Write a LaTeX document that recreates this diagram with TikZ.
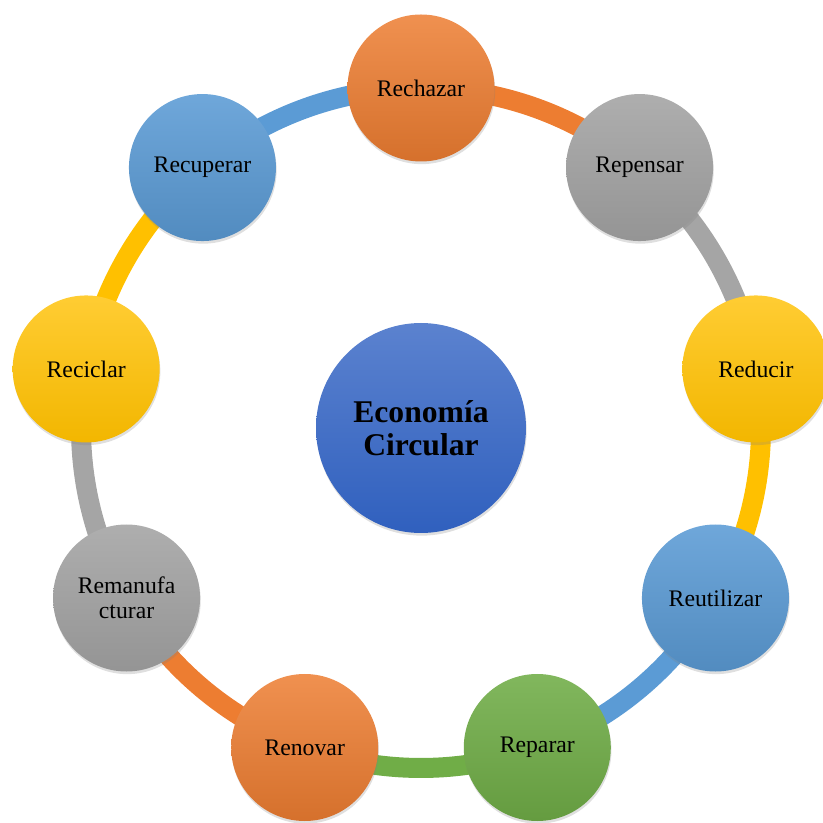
\documentclass[tikz,border=0pt]{standalone}
\usepackage{fontspec}
\setmainfont{Liberation Serif}
\usepackage{tikz}
\usetikzlibrary{shadows,backgrounds}

\definecolor{naranja}{HTML}{ED7D31}
\definecolor{gris}{HTML}{A5A5A5}
\definecolor{amarillo}{HTML}{FFC000}
\definecolor{azul}{HTML}{5B9BD5}
\definecolor{verde}{HTML}{70AD47}
\definecolor{azulclaro}{RGB}{91,130,207}
\definecolor{azuloscuro}{RGB}{48,96,190}

\tikzset{
    sombra/.style={drop shadow={opacity=0.25, shadow xshift=0.4pt, shadow yshift=-1.5pt}},
    etapa/.style={circle, minimum size=2.94cm, inner sep=0pt, align=center,
        font=\fontsize{13.5}{14.2}\selectfont, sombra},
    bolanaranja/.style={etapa, top color=naranja!85!white, bottom color=naranja!90!black},
    bolagris/.style={etapa, top color=gris!90!white, bottom color=gris!90!black},
    bolaamarilla/.style={etapa, top color=amarillo!80!white, bottom color=amarillo!95!black},
    bolaazul/.style={etapa, top color=azul!88!white, bottom color=azul!90!black},
    bolaverde/.style={etapa, top color=verde!88!white, bottom color=verde!90!black},
    aro/.style={line width=0.4cm, bend left=20, looseness=0.88}
}

\begin{document}
\begin{tikzpicture}
    \useasboundingbox (-8.42, -7.9) rectangle (8.04, 8.56);

    \node[circle, minimum size=4.2cm, inner sep=0pt, align=center,
        top color=azulclaro, bottom color=azuloscuro, sombra,
        font=\bfseries\fontsize{18}{19}\selectfont] (centro) at (0, 0) {Economía\\Circular};

    \node[bolanaranja] (rechazar) at (90:6.8) {Rechazar};
    \node[bolagris] (repensar) at (50:6.8) {Repensar};
    \node[bolaamarilla] (reducir) at (10:6.8) {Reducir};
    \node[bolaazul] (reutilizar) at (-30:6.8) {Reutilizar};
    \node[bolaverde] (reparar) at (-70:6.8) {Reparar};
    \node[bolanaranja] (renovar) at (-110:6.8) {Renovar};
    \node[bolagris] (remanufacturar) at (-150:6.8) {Remanufa\\cturar};
    \node[bolaamarilla] (reciclar) at (170:6.8) {Reciclar};
    \node[bolaazul] (recuperar) at (130:6.8) {Recuperar};

    % aro exterior, cada tramo con el color de su etapa
    \begin{scope}[on background layer]
        \draw[aro, naranja] (rechazar.center) to (repensar.center);
        \draw[aro, gris] (repensar.center) to (reducir.center);
        \draw[aro, amarillo] (reducir.center) to (reutilizar.center);
        \draw[aro, azul] (reutilizar.center) to (reparar.center);
        \draw[aro, verde] (reparar.center) to (renovar.center);
        \draw[aro, naranja] (renovar.center) to (remanufacturar.center);
        \draw[aro, gris] (remanufacturar.center) to (reciclar.center);
        \draw[aro, amarillo] (reciclar.center) to (recuperar.center);
        \draw[aro, azul] (recuperar.center) to (rechazar.center);
    \end{scope}
\end{tikzpicture}
\end{document}
